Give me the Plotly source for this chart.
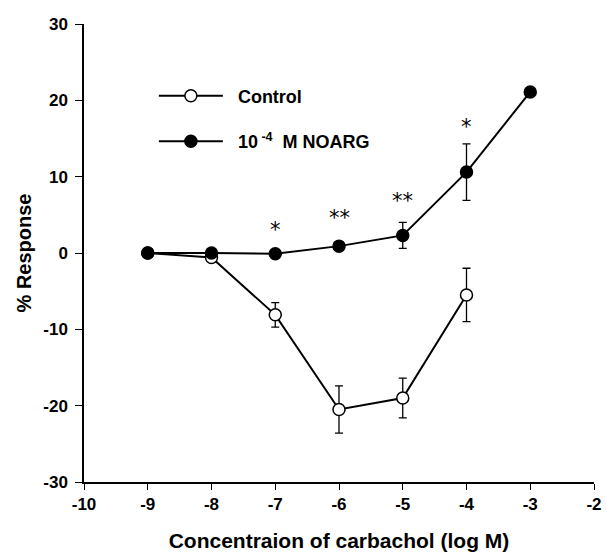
import plotly.graph_objects as go

# Data
control_x = [-9, -8, -7, -6, -5, -4]
control_y = [0.0, -0.6, -8.1, -20.5, -19.0, -5.5]
control_err = [0.0, 0.0, 1.6, 3.1, 2.6, 3.5]
noarg_x = [-9, -8, -7, -6, -5, -4, -3]
noarg_y = [0.0, 0.0, -0.1, 0.9, 2.3, 10.6, 21.1]
noarg_err = [0.0, 0.0, 0.0, 0.0, 1.7, 3.7, 0.0]
sig_x = [-7, -6, -5, -4]
sig_labels = ["*", "**", "**", "*"]
sig_y = [3.0, 4.6, 6.8, 16.5]

x_ticks = [-10, -9, -8, -7, -6, -5, -4, -3, -2]
y_ticks = [-30, -20, -10, 0, 10, 20, 30]

FONT = "Liberation Sans, Arial, Helvetica, sans-serif"
PAD = "&nbsp;&nbsp;"

fig = go.Figure()
fig.add_trace(go.Scatter(
    x=control_x, y=control_y, mode="lines+markers", name=PAD + "<b>Control</b>",
    legendgroup="a",
    line=dict(color="black", width=2),
    marker=dict(symbol="circle", size=12, color="white", line=dict(color="black", width=1.5)),
    error_y=dict(type="data", array=control_err, visible=True, color="black", thickness=1.3, width=4),
))
fig.add_trace(go.Scatter(
    x=noarg_x, y=noarg_y, mode="lines+markers", name=PAD + "<b>10<sup> -4</sup>  M NOARG</b>",
    legendgroup="b",
    line=dict(color="black", width=2),
    marker=dict(symbol="circle", size=12, color="black", line=dict(color="black", width=1.5)),
    error_y=dict(type="data", array=noarg_err, visible=True, color="black", thickness=1.3, width=4),
))

for x, y, t in zip(sig_x, sig_y, sig_labels):
    fig.add_annotation(x=x, y=y, text=t, showarrow=False,
                       font=dict(family="DejaVu Sans, sans-serif", size=21, color="#000000"),
                       xanchor="center", yanchor="middle")

fig.update_layout(
    width=606, height=553,
    margin=dict(l=84, r=12, t=24, b=71),
    paper_bgcolor="white", plot_bgcolor="white",
    font=dict(family=FONT, color="black"),
    showlegend=True,
    legend=dict(x=0.137, y=0.883, xanchor="left", yanchor="top",
                bgcolor="rgba(0,0,0,0)", font=dict(size=18, family=FONT),
                tracegroupgap=19, traceorder="grouped", itemwidth=64),
    xaxis=dict(range=[-10, -2], tickvals=x_ticks, ticktext=[f"<b>{v}</b>" for v in x_ticks],
               automargin=False,
               showgrid=False, zeroline=False, showline=True, linecolor="black", linewidth=1.5,
               ticks="outside", ticklen=6, tickcolor="black", tickwidth=1.3,
               tickfont=dict(size=17, family=FONT),
               title=dict(text="<b>Concentraion of carbachol (log M)</b>", font=dict(size=21, family=FONT), standoff=20)),
    yaxis=dict(range=[-30, 30], tickvals=y_ticks, ticktext=[f"<b>{v}</b>" for v in y_ticks],
               automargin=False,
               showgrid=False, zeroline=False, showline=True, linecolor="black", linewidth=1.5,
               ticks="outside", ticklen=7, tickcolor="black", tickwidth=1.3,
               ticklabelstandoff=4,
               tickfont=dict(size=17, family=FONT),
               title=dict(text="<b>% Response</b>", font=dict(size=20, family=FONT), standoff=6)),
)

fig.write_html("out.html")
